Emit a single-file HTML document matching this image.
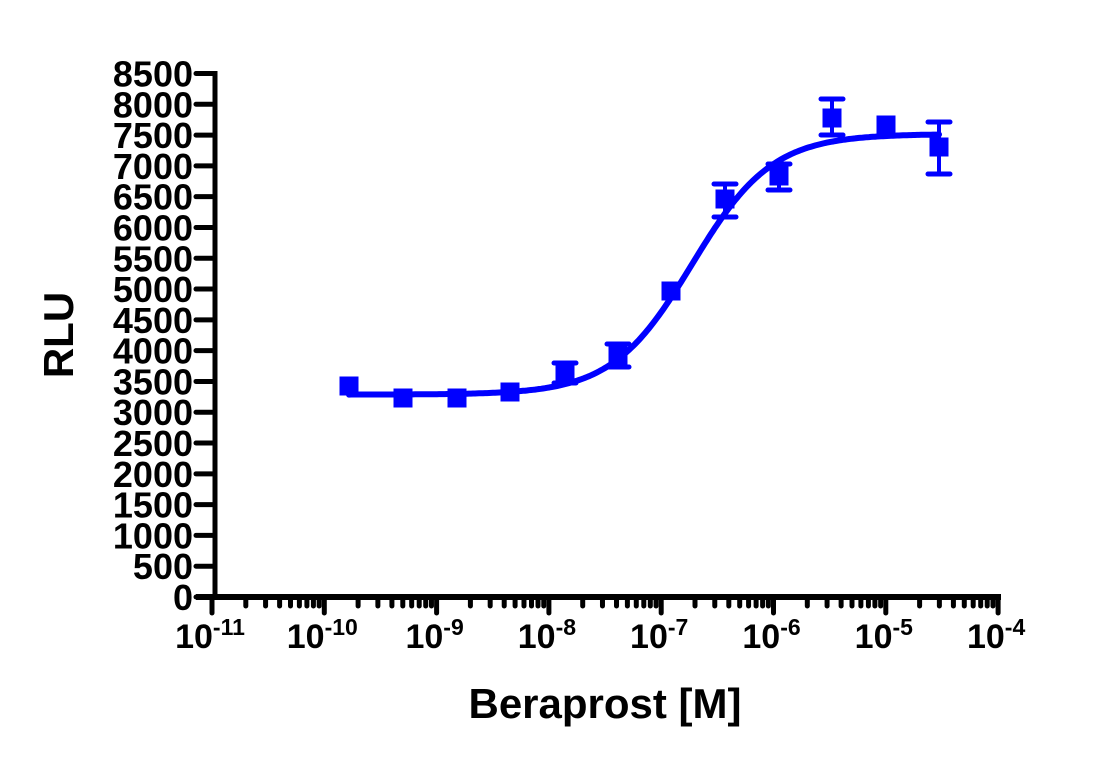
<!DOCTYPE html>
<html><head><meta charset="utf-8"><style>
body{margin:0;background:#fff;}
svg{display:block;}
text{font-family:"Liberation Sans",Arial,sans-serif;font-weight:bold;fill:#000;}
</style></head><body>
<svg id="s" width="1118" height="764" xmlns="http://www.w3.org/2000/svg"></svg>
<script>
var s=document.getElementById('s'),h='';
var X0=212,D=112.3,Y0=597,K=523.5/8500;
function y(v){return Y0-v*K;}
h+='<line x1="215" y1="71" x2="215" y2="600" stroke="#000" stroke-width="5"/>';
for(var v=0;v<=8500;v+=500){var yy=y(v);
h+='<line x1="196" y1="'+yy+'" x2="215" y2="'+yy+'" stroke="#000" stroke-width="5" stroke-linecap="round"/>';
h+='<text x="193" y="'+(yy+13)+'" font-size="36" text-anchor="end">'+v+'</text>';}
h+='<line x1="196" y1="'+Y0+'" x2="1001" y2="'+Y0+'" stroke="#000" stroke-width="6"/>';
for(var d=0;d<=7;d++){var xx=X0+d*D;
h+='<line x1="'+xx+'" y1="'+Y0+'" x2="'+xx+'" y2="613" stroke="#000" stroke-width="5" stroke-linecap="round"/>';
h+='<text x="'+(xx-2)+'" y="648" font-size="34" text-anchor="middle">10<tspan font-size="23" dy="-13">'+(-11+d)+'</tspan></text>';
if(d<7)for(var m=2;m<=9;m++){var mx=xx+Math.log10(m)*D;
h+='<line x1="'+mx+'" y1="'+Y0+'" x2="'+mx+'" y2="606" stroke="#000" stroke-width="5" stroke-linecap="round"/>';}}
var yb=394.6,yt=134,p='';
for(var x=349;x<=939;x+=2){var f=1/(1+Math.exp(-(x-692)/40));p+=(x==349?'M':'L')+x+','+(yb-(yb-yt)*f).toFixed(1);}
h+='<path d="'+p+'" fill="none" stroke="#0000ff" stroke-width="6" stroke-linecap="round"/>';
var pts=[[349,386],[403,398],[457,398],[510,392],[565,373,363,383],[618,355,344,367],[671,291],[725,199,184,217],[779,176,164,190],[832,118,99,135],[886,125],[939,147,122,174]];
pts.forEach(function(q){
if(q[2]){h+='<line x1="'+q[0]+'" y1="'+q[2]+'" x2="'+q[0]+'" y2="'+q[3]+'" stroke="#0000ff" stroke-width="4"/>';
[q[2],q[3]].forEach(function(e){h+='<line x1="'+(q[0]-11)+'" y1="'+e+'" x2="'+(q[0]+11)+'" y2="'+e+'" stroke="#0000ff" stroke-width="5" stroke-linecap="round"/>';});}
h+='<rect x="'+(q[0]-9.5)+'" y="'+(q[1]-9.5)+'" width="19" height="19" fill="#0000ff"/>';});
h+='<text x="605" y="718" font-size="42" text-anchor="middle">Beraprost [M]</text>';
h+='<text transform="translate(73,335) rotate(-90)" font-size="42" text-anchor="middle">RLU</text>';
s.innerHTML=h;
</script>
</body></html>
